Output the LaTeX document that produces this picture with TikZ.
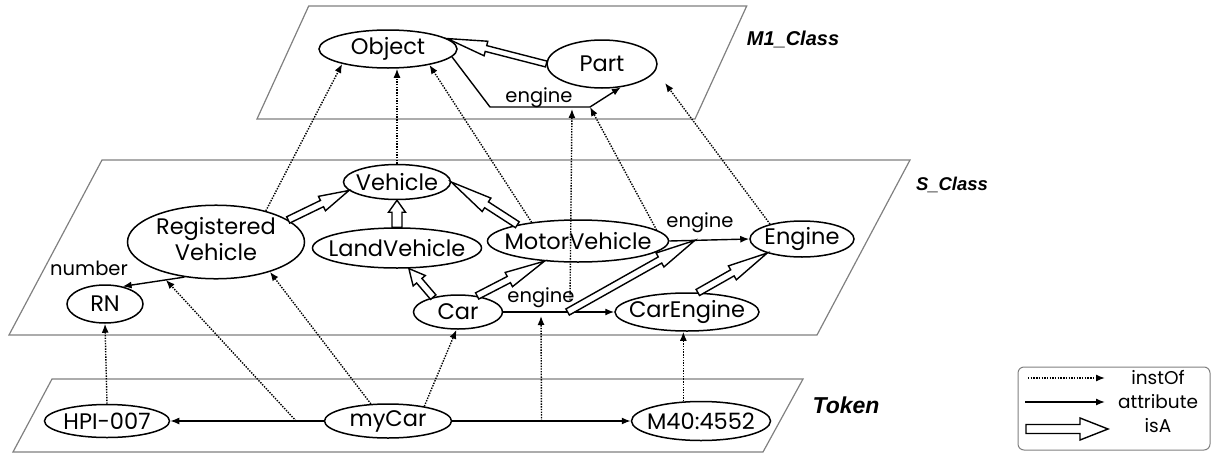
\documentclass[tikz,border=0pt]{standalone}
\usepackage{fontspec}
\setmainfont{Poppins}
\newfontfamily\lblfont{Liberation Sans}
\usetikzlibrary{shapes.geometric,arrows.meta,calc}
\newcommand{\isaArrow}[5]{%
  \coordinate (isaB) at ($(#2)!#5!(#1)$);
  \draw[isastyle] ($(#1)!#3!90:(#2)$) -- ($(isaB)!#3!-90:(#1)$) -- ($(isaB)!#4!-90:(#1)$) -- (#2)
     -- ($(isaB)!#4!90:(#1)$) -- ($(isaB)!#3!90:(#1)$) -- ($(#1)!#3!-90:(#2)$) -- cycle;
}
\newcommand{\tx}[1]{\makebox[0pt]{#1}}
\begin{document}
\begin{tikzpicture}[x=1pt,y=-1pt,
  ent/.style={ellipse, draw, line width=1.5pt, inner sep=0pt, font=\fontsize{22.5}{26}\selectfont},
  plane/.style={draw=black!50, line width=1.2pt},
  inst/.style={line width=1.4pt, dash pattern=on 1.4pt off 1.3pt, -{Latex[length=9pt,width=7pt]}},
  attr/.style={line width=1.4pt, -{Latex[length=9pt,width=7pt]}},
  isastyle/.style={draw, fill=white, line width=1.4pt, line join=miter},
  elbl/.style={font=\fontsize{19.5}{19.5}\selectfont, inner sep=0pt},
  lgl/.style={font=\fontsize{18.5}{18.5}\selectfont, inner sep=0pt},
  plbl/.style={font=\lblfont\bfseries\itshape\fontsize{20}{20}\selectfont, inner sep=0pt}
]
\useasboundingbox (0,0) rectangle (1211,453);
% planes
\draw[plane] (308.7,6) -- (746.7,6) -- (695,119) -- (257,119) -- cycle;
\draw[plane] (102,160) -- (910,160) -- (817,335) -- (9,335) -- cycle;
\draw[plane] (52,379) -- (803,379) -- (763,452) -- (13,452) -- cycle;
\node[plbl] (m1lbl) at (793,39) {M1\_Class};
\node[plbl, font=\lblfont\bfseries\itshape\fontsize{18.5}{18.5}\selectfont] (slbl) at (952,185) {S\_Class};
\node[plbl, font=\lblfont\bfseries\itshape\fontsize{23}{23}\selectfont] (tlbl) at (846,405) {Token};
% nodes
\node[ent, minimum width=138pt, minimum height=38pt] (Object) at (388,49) {\tx{Object}};
\node[ent, minimum width=110pt, minimum height=48pt] (Part) at (602,64) {\tx{Part}};
\node[ent, minimum width=107pt, minimum height=35pt] (Vehicle) at (397,182) {\tx{Vehicle}};
\node[ent, minimum width=177pt, minimum height=70pt] (RV) at (216,242) {\tx{\begin{tabular}{@{}c@{}}Registered\\Vehicle\end{tabular}}};
\node[ent, minimum width=169pt, minimum height=40pt] (LandVehicle) at (397,248) {\tx{LandVehicle}};
\node[ent, minimum width=76pt, minimum height=38pt] (RN) at (105,304) {\tx{RN}};
\node[ent, minimum width=181pt, minimum height=42pt] (MotorVehicle) at (578,241) {\tx{MotorVehicle}};
\node[ent, minimum width=89pt, minimum height=34pt] (Car) at (458,312) {\tx{Car}};
\node[ent, minimum width=144pt, minimum height=38pt] (CarEngine) at (687,312) {\tx{CarEngine}};
\node[ent, minimum width=104pt, minimum height=36pt] (Engine) at (802,239) {\tx{Engine}};
\node[ent, minimum width=125pt, minimum height=33pt] (HPI) at (107,421) {\tx{HPI-007}};
\node[ent, minimum width=127pt, minimum height=34pt] (myCar) at (388,421) {\tx{myCar}};
\node[ent, minimum width=139pt, minimum height=39pt] (M40) at (701,421) {\tx{M40:4552}};
% attributes
\coordinate (m1a) at (490,107);
\coordinate (m1b) at (590,107);
\draw[attr] (Object.353) -- (m1a) -- coordinate[pos=0.82] (m1c) (m1b) -- (Part.309);
\node[elbl] (lblM1) at (539,98) {engine};
\draw[attr] (RV.228) -- coordinate[pos=0.3] (rvrn) (RN.45);
\node[elbl] (lblRN) at (89,268) {number};
\draw[attr] (Car.east) -- coordinate[pos=0.34] (carAttrA) coordinate[pos=0.58] (carAttrB) (CarEngine.west);
\node[elbl] (lblCar) at (541,298) {engine};
\draw[attr] (MotorVehicle.east) -- coordinate[pos=0.32] (mvAttr) (Engine.west);
\node[elbl] (lblMV) at (700,223) {engine};
\draw[attr] (myCar.west) -- coordinate[pos=0.18] (hpiAttr) (HPI.east);
\draw[attr] (myCar.east) -- coordinate[pos=0.5] (m40Attr) (M40.west);
% instOf
\coordinate (ceTop) at (570,300);
\coordinate (pe) at (665,83);
\draw[inst] (RV.32) -- (Object.198);
\draw[inst] (Vehicle.north) -- (Vehicle.north |- Object.south);
\draw[inst] (MotorVehicle.158) -- (Object.339);
\draw[inst, shorten >=2pt] (ceTop) -- (m1c);
\draw[inst] (MotorVehicle.8) -- (m1b);
\draw[inst] (Engine.155) -- (pe);
\draw[inst] (HPI.north) -- (RN.south);
\draw[inst] (hpiAttr) -- (rvrn);
\draw[inst] (myCar.135) -- (RV.331);
\draw[inst] (myCar.22) -- (Car.265);
\draw[inst, shorten >=4pt] (m40Attr) -- (carAttrA);
\draw[inst] (M40.132) -- (M40.132 |- CarEngine.south);
% isA
\isaArrow{Part.west}{Object.10}{3pt}{7.5pt}{40pt}
\isaArrow{RV.17}{Vehicle.190}{3.5pt}{8pt}{30pt}
\isaArrow{LandVehicle.north}{Vehicle.south}{5pt}{8.5pt}{12pt}
\isaArrow{MotorVehicle.165}{Vehicle.east}{3.5pt}{8pt}{42pt}
\isaArrow{Car.149}{LandVehicle.300}{3.5pt}{8pt}{16pt}
\isaArrow{Car.40}{MotorVehicle.211}{3.5pt}{8pt}{40pt}
\isaArrow{CarEngine.61}{Engine.202}{3.5pt}{8pt}{40pt}
\isaArrow{carAttrB}{mvAttr}{3.5pt}{8pt}{40pt}
% legend
\node[draw=black!50, rounded corners=6pt, line width=1pt, minimum width=192pt, minimum height=83pt] (legend) at (1114,408.5) {};
\coordinate (lg1a) at (1028,378); \coordinate (lg1b) at (1105,378);
\coordinate (lg2a) at (1025,402); \coordinate (lg2b) at (1105,402);
\coordinate (lg3a) at (1026,429); \coordinate (lg3b) at (1108,429);
\draw[inst] (lg1a) -- (lg1b);
\draw[attr] (lg2a) -- (lg2b);
\isaArrow{lg3a}{lg3b}{4.5pt}{11pt}{28pt}
\node[lgl] (lgt1) at (1158,378) {instOf};
\node[lgl] (lgt2) at (1158,402) {attribute};
\node[lgl] (lgt3) at (1158,426) {isA};
\end{tikzpicture}
\end{document}
